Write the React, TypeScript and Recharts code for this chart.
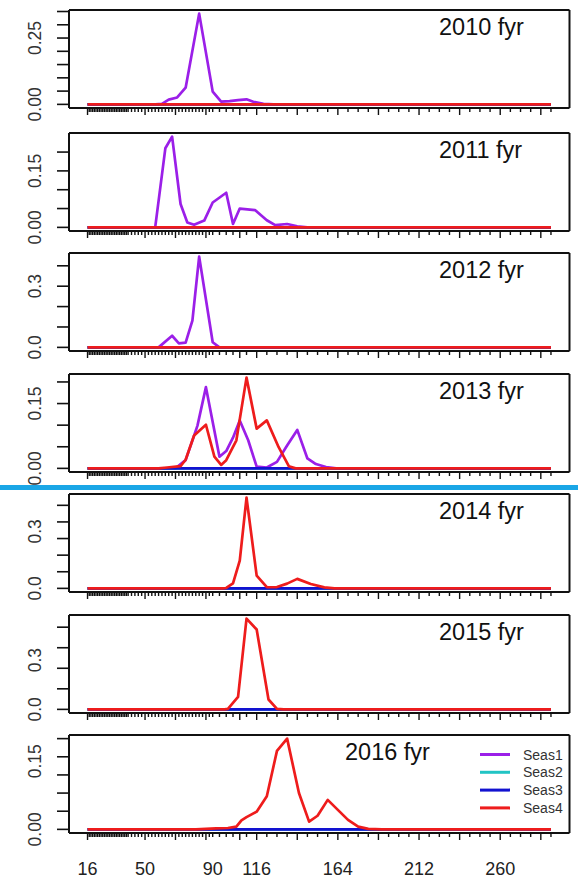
import React from 'react';
import { LineChart, Line, XAxis, YAxis } from 'recharts';

type Pt = [number, number];

// ---------- categories / labels ----------
const TITLES = ['2010 fyr', '2011 fyr', '2012 fyr', '2013 fyr', '2014 fyr', '2015 fyr', '2016 fyr'];
const SEAS_NAMES = ['Seas1', 'Seas2', 'Seas3', 'Seas4'];
const SEAS_COLORS = ['#9b1fe8', '#22c4c4', '#1212d0', '#ee1c1c'];

// length-bin tick marks and labels (x axis)
const range = (a: number, b: number, s: number) => {
  const out: number[] = [];
  for (let v = a; v <= b + 1e-9; v += s) out.push(v);
  return out;
};
const X_MINOR_TICKS = [...range(16, 40, 1), ...range(42, 88, 2), 90, 94, 98, 102, 106, 110, ...range(116, 290, 6)];
const X_MAJOR_TICKS = [16, 50, 68, 86, 106, 116, 140, 164, 188, 212, 236, 260, 284];
const X_LABEL_TICKS = [16, 50, 90, 116, 164, 212, 260];

// ---------- series values ----------
const ZERO: Pt[] = [[16, 0], [290, 0]];

const seas1_2010: Pt[] = [[16, 0], [56, 0], [60, 0.002], [64, 0.018], [69, 0.026], [74, 0.063], [82, 0.342], [90, 0.048], [95, 0.01], [100, 0.012], [105, 0.016], [110, 0.019], [114, 0.01], [120, 0.002], [126, 0], [290, 0]];
const seas1_2011: Pt[] = [[16, 0], [56, 0], [62, 0.21], [66, 0.241], [71, 0.062], [75, 0.013], [79, 0.007], [85, 0.018], [90, 0.066], [98, 0.092], [102, 0.009], [106, 0.05], [115, 0.046], [122, 0.019], [127, 0.006], [134, 0.009], [140, 0.003], [146, 0], [290, 0]];
const seas1_2012: Pt[] = [[16, 0], [58, 0], [66, 0.057], [70, 0.02], [74, 0.023], [78, 0.131], [82, 0.445], [90, 0.025], [94, 0], [290, 0]];
const seas1_2013: Pt[] = [[16, 0], [68, 0], [74, 0.019], [81, 0.099], [86, 0.188], [94, 0.027], [98, 0.04], [102, 0.071], [106, 0.111], [111, 0.065], [116, 0.004], [122, 0.002], [128, 0.015], [134, 0.053], [140, 0.089], [146, 0.023], [151, 0.01], [157, 0.003], [163, 0], [290, 0]];
const seas4_2013: Pt[] = [[16, 0], [58, 0], [63, 0.002], [71, 0.005], [74, 0.02], [79, 0.076], [86, 0.101], [91, 0.027], [95, 0.008], [98, 0.019], [104, 0.065], [110, 0.21], [116, 0.092], [122, 0.111], [129, 0.049], [135, 0.005], [139, 0], [290, 0]];
const seas4_2014: Pt[] = [[16, 0], [96, 0], [98, 0.002], [102, 0.026], [106, 0.146], [110, 0.478], [116, 0.067], [122, 0.006], [128, 0.007], [134, 0.025], [140, 0.05], [148, 0.023], [156, 0.005], [162, 0], [290, 0]];
const seas4_2015: Pt[] = [[16, 0], [97, 0], [99, 0.003], [105, 0.076], [110, 0.552], [116, 0.486], [123, 0.06], [128, 0.003], [132, 0], [290, 0]];
const seas4_2016: Pt[] = [[16, 0], [80, 0], [92, 0.002], [99, 0.003], [104, 0.006], [107, 0.02], [110, 0.027], [116, 0.039], [122, 0.073], [128, 0.173], [134, 0.2], [141, 0.08], [147, 0.017], [152, 0.03], [158, 0.065], [164, 0.043], [170, 0.021], [176, 0.006], [182, 0.001], [190, 0], [290, 0]];

// y-axis tick marks and labelled ticks per panel
const Y_MINOR = [
  [0, 0.05, 0.1, 0.15, 0.2, 0.25, 0.3, 0.35],
  [0, 0.05, 0.1, 0.15, 0.2],
  [0, 0.1, 0.2, 0.3, 0.4],
  [0, 0.05, 0.1, 0.15, 0.2],
  [0, 0.0875, 0.175, 0.2625, 0.35, 0.4375],
  [0, 0.125, 0.25, 0.375, 0.5],
  [0, 0.04, 0.08, 0.12, 0.16, 0.2],
];
const Y_LABELS = [[0, 0.25], [0, 0.15], [0, 0.3], [0, 0.15], [0, 0.3], [0, 0.3], [0, 0.15]];
const Y_DECIMALS = [2, 2, 1, 2, 1, 1, 2];

const SERIES: Pt[][][] = [
  [seas1_2010, ZERO, ZERO, ZERO],
  [seas1_2011, ZERO, ZERO, ZERO],
  [seas1_2012, ZERO, ZERO, ZERO],
  [seas1_2013, ZERO, ZERO, seas4_2013],
  [ZERO, ZERO, ZERO, seas4_2014],
  [ZERO, ZERO, ZERO, seas4_2015],
  [ZERO, ZERO, ZERO, seas4_2016],
];

// ---------- layout ----------
const FONT = '"Liberation Sans", Arial, sans-serif';
const BOX_TOPS = [10, 132.5, 252.5, 373.5, 493.5, 615, 735];
const BOX_H = 98;
const TOP_PAD = 10;
const RIGHT_PAD = 8.5;
const TITLE_X = [439, 439, 439, 439, 439, 439, 345];
const X_DOMAIN: [number, number] = [5.04, 300.96];

const uniqSorted = (a: number[]) => Array.from(new Set(a.map((v) => +v.toFixed(6)))).sort((p, q) => p - q);
const has = (arr: number[], v: number) => arr.some((t) => Math.abs(t - v) < 1e-6);

const X_ALL_TICKS = uniqSorted([...X_MINOR_TICKS, ...X_MAJOR_TICKS, ...X_LABEL_TICKS]);

function Panel({ idx }: { idx: number }) {
  const last = idx === TITLES.length - 1;
  const series = SERIES[idx];
  const M = Math.max(...series.flat().map((p) => p[1]));
  const yDomain: [number, number] = [-0.04 * M, 1.04 * M];
  const yTicks = uniqSorted([...Y_MINOR[idx], ...Y_LABELS[idx]]);
  const bottom = last ? 52 : 14;

  const xTick = (props: any) => {
    const { x, y, payload } = props;
    const v = payload.value;
    const major = has(X_MAJOR_TICKS, v);
    const len = major ? 7 : 4;
    return (
      <g key={`xt-${v}`}>
        <line x1={x} x2={x} y1={y} y2={y + len} stroke="#111" strokeWidth={1.4} />
        {last && has(X_LABEL_TICKS, v) ? (
          <text x={x} y={y + 42} textAnchor="middle" fontSize={18} fontFamily={FONT} fill="#222">
            {v}
          </text>
        ) : null}
      </g>
    );
  };

  const yTick = (props: any) => {
    const { x, y, payload } = props;
    const v = payload.value;
    return (
      <g key={`yt-${v}`}>
        {has(Y_MINOR[idx], v) ? <line x1={x - 12} x2={x} y1={y} y2={y} stroke="#111" strokeWidth={1.6} /> : null}
        {has(Y_LABELS[idx], v) ? (
          <text
            x={41.5}
            y={y}
            transform={`rotate(-90, 41.5, ${y})`}
            textAnchor="middle"
            fontSize={17.5}
            fontFamily={FONT}
            fill="#333"
          >
            {v.toFixed(Y_DECIMALS[idx])}
          </text>
        ) : null}
      </g>
    );
  };

  return (
    <div style={{ position: 'absolute', left: 0, top: BOX_TOPS[idx] - TOP_PAD }}>
      <LineChart width={578} height={TOP_PAD + BOX_H + bottom} margin={{ top: 0, right: 0, bottom: 0, left: 0 }}>
        <XAxis
          dataKey="x"
          type="number"
          domain={X_DOMAIN}
          ticks={X_ALL_TICKS}
          interval={0}
          height={bottom}
          tickSize={0}
          tickMargin={0}
          tickLine={false}
          axisLine={{ stroke: '#111', strokeWidth: 2 }}
          tick={xTick}
          allowDataOverflow
        />
        <XAxis
          xAxisId="top"
          orientation="top"
          dataKey="x"
          type="number"
          domain={X_DOMAIN}
          height={TOP_PAD}
          tick={false}
          tickLine={false}
          axisLine={{ stroke: '#111', strokeWidth: 2 }}
          allowDataOverflow
        />
        <YAxis
          type="number"
          domain={yDomain}
          ticks={yTicks}
          interval={0}
          width={69}
          tickSize={0}
          tickMargin={0}
          tickLine={false}
          axisLine={{ stroke: '#111', strokeWidth: 2 }}
          tick={yTick}
          allowDataOverflow
        />
        <YAxis
          yAxisId="right"
          orientation="right"
          type="number"
          domain={yDomain}
          width={RIGHT_PAD}
          tick={false}
          tickLine={false}
          axisLine={{ stroke: '#111', strokeWidth: 2 }}
          allowDataOverflow
        />
        {series.map((pts, si) => (
          <Line
            key={SEAS_NAMES[si]}
            name={SEAS_NAMES[si]}
            data={pts.map(([x, y]) => ({ x, y }))}
            dataKey="y"
            type="linear"
            stroke={SEAS_COLORS[si]}
            strokeWidth={2.7}
            strokeLinejoin="round"
            dot={false}
            activeDot={false}
            isAnimationActive={false}
          />
        ))}
      </LineChart>
    </div>
  );
}

export default function App() {
  const legendY0 = 754.5;
  const legendDy = 17.8;
  return (
    <div style={{ position: 'absolute', left: 0, top: 0, width: 578, height: 879, background: '#fff', overflow: 'hidden' }}>
      {TITLES.map((_, i) => (
        <Panel key={i} idx={i} />
      ))}
      <svg width={578} height={879} style={{ position: 'absolute', left: 0, top: 0, pointerEvents: 'none' }}>
        <rect x={0} y={485} width={578} height={5} fill="#1aa6e6" />
        {TITLES.map((t, i) => (
          <text key={t} x={TITLE_X[i]} y={BOX_TOPS[i] + 25} fontSize={23.5} fontFamily={FONT} fill="#111">
            {t}
          </text>
        ))}
        {SEAS_NAMES.map((n, i) => (
          <g key={n}>
            <line x1={480} x2={510} y1={legendY0 + i * legendDy} y2={legendY0 + i * legendDy} stroke={SEAS_COLORS[i]} strokeWidth={3} />
            <text x={523} y={legendY0 + i * legendDy + 5} fontSize={14} fontFamily={FONT} fill="#333">
              {n}
            </text>
          </g>
        ))}
      </svg>
    </div>
  );
}
